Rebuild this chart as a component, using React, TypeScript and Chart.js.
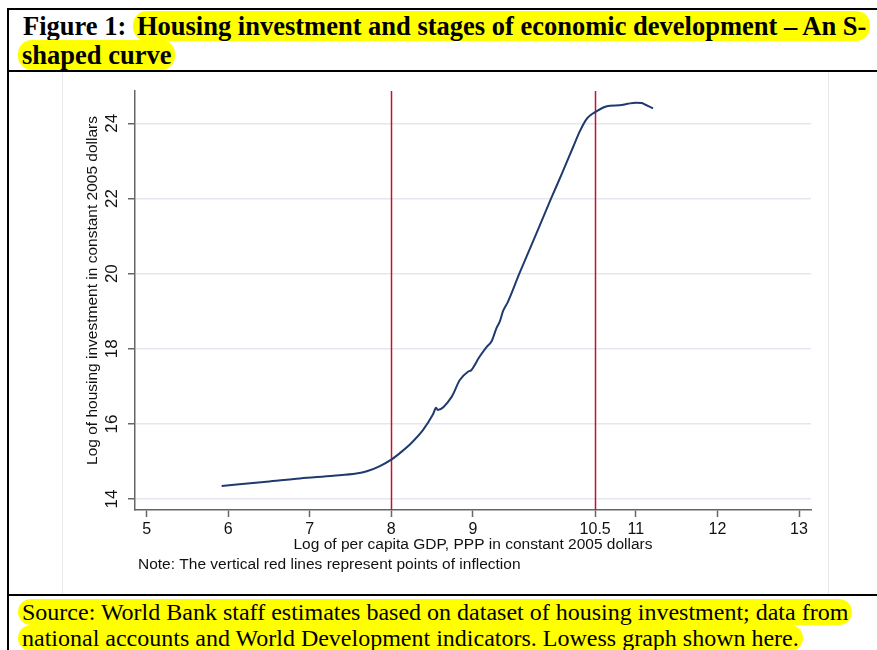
import React, { useEffect, useRef } from "react";
import { Chart, registerables } from "chart.js";

Chart.register(...registerables);

// Lowess fit: log per-capita GDP (PPP, constant 2005 $) vs log housing investment
const gdpLog = [
  5.92, 6.47, 6.88, 7.29, 7.57, 7.7, 7.86, 8.0, 8.12, 8.25, 8.39, 8.51, 8.55, 8.57,
  8.74, 8.84, 8.94, 8.98, 9.08, 9.17, 9.23, 9.29, 9.33, 9.37, 9.43, 9.57, 9.75,
  9.96, 10.1, 10.23, 10.31, 10.39, 10.45, 10.5, 10.6, 10.68, 10.8, 10.9, 11.0,
  11.07, 11.11, 11.21,
];
const housingLog = [
  14.35, 14.46, 14.55, 14.62, 14.68, 14.74, 14.88, 15.05, 15.25, 15.5, 15.84,
  16.25, 16.43, 16.37, 16.72, 17.17, 17.39, 17.43, 17.78, 18.05, 18.2, 18.55,
  18.72, 19.0, 19.25, 20.0, 20.92, 22.0, 22.7, 23.37, 23.78, 24.1, 24.23, 24.3,
  24.42, 24.47, 24.48, 24.52, 24.55, 24.54, 24.5, 24.4,
];

// Points of inflection (vertical red lines)
const inflectionPoints = [8, 10.5];

const xTicks = [5, 6, 7, 8, 9, 10.5, 11, 12, 13];
const yTicks = [14, 16, 18, 20, 22, 24];
const xRange = [4.857, 13.147];
const yRange = [13.71, 24.86];

const xTitle = "Log of per capita GDP, PPP in constant 2005 dollars";
const yTitle = "Log of housing investment in constant 2005 dollars";
const noteText = "Note: The vertical red lines represent points of inflection";

const CURVE = "#1f3a6e";
const RED = "#c8102e";
const AXIS = "#666666";
const GRID = "#e3e8f0";
const SANS = "'Liberation Sans', Arial, Helvetica, sans-serif";
const SERIF = "'Liberation Serif', 'Times New Roman', serif";

const inflectionLines = {
  id: "inflectionLines",
  beforeDatasetsDraw(chart: any) {
    const { ctx, chartArea, scales } = chart;
    ctx.save();
    ctx.strokeStyle = RED;
    ctx.lineWidth = 1.5;
    inflectionPoints.forEach((v) => {
      const px = Math.round(scales.x.getPixelForValue(v)) + 0.5;
      ctx.beginPath();
      ctx.moveTo(px, chartArea.top);
      ctx.lineTo(px, chartArea.bottom);
      ctx.stroke();
    });
    ctx.restore();
  },
};

// Rotated y-axis title (sits a little above the plot's midline) and the footnote
const annotations = {
  id: "annotations",
  afterDraw(chart: any) {
    const { ctx, chartArea } = chart;
    ctx.save();
    ctx.fillStyle = "#111";
    ctx.font = `15.5px ${SANS}`;
    ctx.textAlign = "left";
    ctx.textBaseline = "middle";
    ctx.fillText(noteText, chartArea.left + 3, chart.height - 29);

    ctx.translate(chartArea.left - 42, (chartArea.top + chartArea.bottom) / 2 - 10);
    ctx.rotate(-Math.PI / 2);
    ctx.textAlign = "center";
    ctx.fillText(yTitle, 0, 0);
    ctx.restore();
  },
};

function HousingChart() {
  const ref = useRef<HTMLCanvasElement | null>(null);

  useEffect(() => {
    if (!ref.current) return;
    Chart.defaults.font.family = SANS;
    const chart = new Chart(ref.current, {
      type: "line",
      data: {
        datasets: [
          {
            data: gdpLog.map((x, i) => ({ x, y: housingLog[i] })),
            borderColor: CURVE,
            borderWidth: 2,
            pointRadius: 0,
            fill: false,
            cubicInterpolationMode: "monotone",
          },
        ],
      },
      options: {
        animation: false,
        responsive: false,
        maintainAspectRatio: false,
        layout: { padding: { left: 10, right: 18, top: 19, bottom: 34 } },
        plugins: {
          legend: { display: false },
          tooltip: { enabled: false },
          title: { display: false },
        },
        scales: {
          x: {
            type: "linear",
            min: xRange[0],
            max: xRange[1],
            afterBuildTicks: (s: any) => {
              s.ticks = xTicks.map((value) => ({ value }));
            },
            afterFit: (s: any) => {
              s.height = 50;
            },
            ticks: {
              autoSkip: false,
              maxRotation: 0,
              minRotation: 0,
              padding: 3,
              color: "#111",
              font: { size: 16 },
              callback: (v: any) => String(v),
            },
            grid: {
              drawOnChartArea: false,
              tickLength: 7,
              tickColor: AXIS,
              tickWidth: 1.5,
            },
            border: { color: AXIS, width: 1.5 },
            title: {
              display: true,
              text: xTitle,
              color: "#111",
              font: { size: 15.5 },
              padding: { top: 0, bottom: 5.7 },
            },
          },
          y: {
            type: "linear",
            min: yRange[0],
            max: yRange[1],
            afterBuildTicks: (s: any) => {
              s.ticks = yTicks.map((value) => ({ value }));
            },
            afterFit: (s: any) => {
              s.width = 61;
            },
            ticks: {
              minRotation: 90,
              maxRotation: 90,
              crossAlign: "center",
              padding: 6,
              color: "#111",
              font: { size: 17 },
              callback: (v: any) => String(v),
            },
            grid: {
              color: GRID,
              lineWidth: 1.5,
              tickLength: 7,
              tickColor: AXIS,
              tickWidth: 1.5,
            },
            border: { color: AXIS, width: 1.5 },
            title: { display: false },
          },
        },
      },
      plugins: [inflectionLines, annotations],
    } as any);
    return () => chart.destroy();
  }, []);

  return (
    <canvas
      ref={ref}
      width={765}
      height={522}
      style={{ position: "absolute", left: 64, top: 72, width: 765, height: 522 }}
    />
  );
}

const mark: React.CSSProperties = {
  background: "#ffff00",
  color: "#000",
  borderRadius: 14,
  padding: "0 4px",
  boxDecorationBreak: "clone",
  WebkitBoxDecorationBreak: "clone",
};

export default function App() {
  return (
    <div
      style={{
        position: "absolute",
        left: 0,
        top: 0,
        width: 877,
        height: 650,
        overflow: "hidden",
        background: "#fff",
      }}
    >
      {/* frame rules */}
      <div style={{ position: "absolute", left: 7, top: 8, width: 870, height: 2, background: "#000" }} />
      <div style={{ position: "absolute", left: 7, top: 8, width: 2, height: 642, background: "#000" }} />
      <div style={{ position: "absolute", left: 7, top: 70, width: 870, height: 2, background: "#000" }} />
      <div style={{ position: "absolute", left: 7, top: 594, width: 870, height: 2, background: "#000" }} />
      {/* graph region outline */}
      <div
        style={{
          position: "absolute",
          left: 62,
          top: 72,
          width: 767,
          height: 522,
          borderLeft: "1px solid #e8e8e8",
          borderRight: "1px solid #e8e8e8",
          boxSizing: "border-box",
        }}
      />

      <div
        style={{
          position: "absolute",
          left: 18,
          top: 12,
          whiteSpace: "nowrap",
          fontFamily: SERIF,
          fontWeight: "bold",
          fontSize: 26.5,
          lineHeight: "29px",
          color: "#000",
        }}
      >
        <span style={{ paddingLeft: 5 }}>Figure 1: </span>
        <span style={mark}>
          Housing investment and stages of economic development – An S-
          <br />
          shaped curve
        </span>
      </div>

      <HousingChart />

      <div
        style={{
          position: "absolute",
          left: 18,
          top: 599,
          whiteSpace: "nowrap",
          fontFamily: SERIF,
          fontSize: 24,
          lineHeight: "26px",
          color: "#000",
        }}
      >
        <span style={mark}>
          Source: World Bank staff estimates based on dataset of housing investment; data from
          <br />
          national accounts and World Development indicators. Lowess graph shown here.
        </span>
      </div>
    </div>
  );
}
